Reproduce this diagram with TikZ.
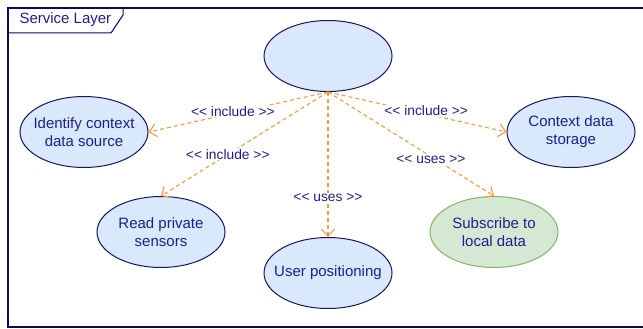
\documentclass[tikz,border=0pt]{standalone}
\usepackage{fontspec}
\setmainfont{Liberation Sans}
\usetikzlibrary{shapes.geometric, arrows.meta}
\definecolor{usecasefill}{RGB}{218,232,252}
\definecolor{usecaseline}{RGB}{20,20,100}
\definecolor{textblue}{RGB}{30,30,145}
\definecolor{linkorange}{RGB}{255,153,51}
\definecolor{greenfill}{RGB}{213,232,212}
\definecolor{greenline}{RGB}{130,179,102}
\definecolor{framenavy}{RGB}{10,10,100}
\newcommand{\stereo}[1]{{<}{<} #1 {>}{>}}

\begin{document}
\begin{tikzpicture}[x=1pt, y=-1pt,
    usecase/.style={ellipse, draw=usecaseline, fill=usecasefill, line width=1pt,
        minimum width=128pt, minimum height=71pt, inner xsep=-12pt, inner ysep=0pt,
        align=center, text=textblue, font=\fontsize{15}{18}\selectfont},
    greencase/.style={usecase, draw=greenline, fill=greenfill},
    link/.style={draw=linkorange, line width=1.1pt, dash pattern=on 4pt off 3pt,
        -{Straight Barb[length=7pt, width=13pt, line width=1.1pt]}},
    lbl/.style={fill=white, text=textblue, inner sep=1pt, font=\fontsize{13.8}{16}\selectfont}]
    \useasboundingbox (0,0) rectangle (643,329);
    \clip (0,0) rectangle (643,329);
    \draw[framenavy, line width=1.3pt] (8,8) rectangle (660,327);
    \draw[framenavy, line width=1pt] (8,8) -- (123,8) -- (123,15) -- (111,33) -- (8,33) -- cycle;
    \node[text=textblue, font=\fontsize{15}{18}\selectfont, anchor=west] (title) at (16,20) {Service Layer};

    \node[usecase] (main) at (328,56) {};
    \node[usecase] (idf) at (84,132) {Identify context\\data source};
    \node[usecase] (read) at (161,232) {Read private\\sensors};
    \node[usecase] (user) at (328,273) {User positioning};
    \node[greencase] (sub) at (494,232) {Subscribe to\\local data};
    \node[usecase] (ctx) at (571,132) {Context data\\storage};

    \draw[link] (main.south) -- (idf.east) node[lbl, pos=0.53, yshift=2pt] {\stereo{include}};
    \draw[link] (main.south) -- (read.north) node[lbl, pos=0.6] {\stereo{include}};
    \draw[link] (main.south) -- (user.north) node[lbl, pos=0.73] {\stereo{uses}};
    \draw[link] (main.south) -- (sub.north) node[lbl, pos=0.62, yshift=-3pt] {\stereo{uses}};
    \draw[link] (main.south) -- (ctx.west) node[lbl, pos=0.55, yshift=3pt] {\stereo{include}};
\end{tikzpicture}
\end{document}
